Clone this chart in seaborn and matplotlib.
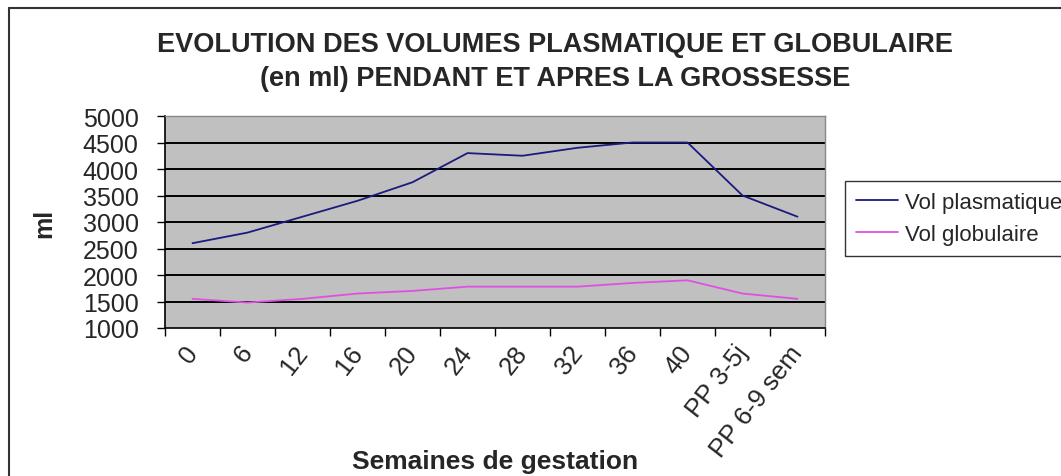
import numpy as np
import pandas as pd
import matplotlib
matplotlib.use('Agg')
import matplotlib.pyplot as plt
import matplotlib.transforms as mtransforms
from matplotlib.lines import Line2D
import seaborn as sns

weeks = ['0', '6', '12', '16', '20', '24', '28', '32', '36', '40', 'PP 3-5j', 'PP 6-9 sem']
vol_plasmatique = [2600, 2800, 3100, 3400, 3750, 4300, 4250, 4400, 4500, 4500, 3500, 3100]
vol_globulaire = [1550, 1480, 1550, 1650, 1700, 1780, 1780, 1780, 1850, 1900, 1650, 1550]
series_names = ['Vol plasmatique', 'Vol globulaire']
y_ticks = [1000, 1500, 2000, 2500, 3000, 3500, 4000, 4500, 5000]

W, H = 1061, 477

df = pd.DataFrame({
    'pos': list(range(len(weeks))) * 2,
    'ml': vol_plasmatique + vol_globulaire,
    'serie': [series_names[0]] * len(weeks) + [series_names[1]] * len(weeks),
})

sns.set_style('white')
plt.rcParams['font.family'] = ['Liberation Sans', 'DejaVu Sans']

fig = plt.figure(figsize=(W / 100, H / 100), dpi=100)
ax = fig.add_axes([165 / W, 1 - 329 / H, (825 - 165) / W, (329 - 117) / H])
ax.set_facecolor('#C0C0C0')

sns.lineplot(data=df, x='pos', y='ml', hue='serie', hue_order=series_names,
             palette=['#1a1a80', '#e050e0'], linewidth=1.3, ax=ax, legend=False)

ax.set_xlim(-0.5, len(weeks) - 0.5)
ax.set_ylim(1000, 5000)
ax.set_yticks(y_ticks)
ax.set_yticklabels([str(v) for v in y_ticks], fontsize=18)
for v in y_ticks[1:-1]:
    ax.axhline(v, color='black', linewidth=1.4, zorder=1)

# labels at category centres, ticks on category edges
ax.set_xticks(range(len(weeks)))
ax.set_xticklabels(weeks, rotation=52, ha='right', rotation_mode='anchor', fontsize=18.5)
ax.set_xticks(np.arange(-0.5, len(weeks) + 0.5, 1), minor=True)
ax.tick_params(axis='x', which='major', length=0, pad=9)
ax.tick_params(axis='x', which='minor', length=6, width=1, color='black', direction='out', bottom=True)
ax.tick_params(axis='y', length=6, width=1, color='black', direction='out', left=True, pad=13)
shift = mtransforms.ScaledTranslation(-9 / 100, 0, fig.dpi_scale_trans)
for lbl in ax.get_xticklabels():
    lbl.set_transform(lbl.get_transform() + shift)

for side in ['top', 'right']:
    ax.spines[side].set_color('#888888')
    ax.spines[side].set_linewidth(1)
for side in ['left', 'bottom']:
    ax.spines[side].set_color('black')
    ax.spines[side].set_linewidth(1.2)

ax.set_xlabel('Semaines de gestation', fontsize=19, fontweight='bold')
ax.xaxis.set_label_coords(0.5, -(450 - 329) / (329 - 117))
ax.set_ylabel('ml', fontsize=18, fontweight='bold')
ax.yaxis.set_label_coords(-(165 - 56) / (825 - 165), 0.5)

fig.text(555 / W, 1 - 45 / H, 'EVOLUTION DES VOLUMES PLASMATIQUE ET GLOBULAIRE',
         ha='center', va='center', fontsize=19.5, fontweight='bold')
fig.text(555 / W, 1 - 79 / H, '(en ml) PENDANT ET APRES LA GROSSESSE',
         ha='center', va='center', fontsize=19.5, fontweight='bold')

handles = [Line2D([0], [0], color='#1a1a80', linewidth=1.3),
           Line2D([0], [0], color='#e050e0', linewidth=1.3)]
leg = fig.legend(handles, series_names, loc='upper left',
                 bbox_to_anchor=(845 / W, 1 - 182 / H), fontsize=16,
                 frameon=True, fancybox=False, handlelength=1.9,
                 handletextpad=0.3, borderpad=0.5, labelspacing=0.5,
                 borderaxespad=0)
leg.get_frame().set_edgecolor('black')
leg.get_frame().set_linewidth(1)

# outer chart frame
fig.add_artist(Line2D([9 / W, 1], [1 - 9 / H, 1 - 9 / H], color='#333333', linewidth=1.5))
fig.add_artist(Line2D([9 / W, 9 / W], [0, 1 - 9 / H], color='#333333', linewidth=1.5))

fig.savefig('out.png', dpi=100, facecolor='white')
